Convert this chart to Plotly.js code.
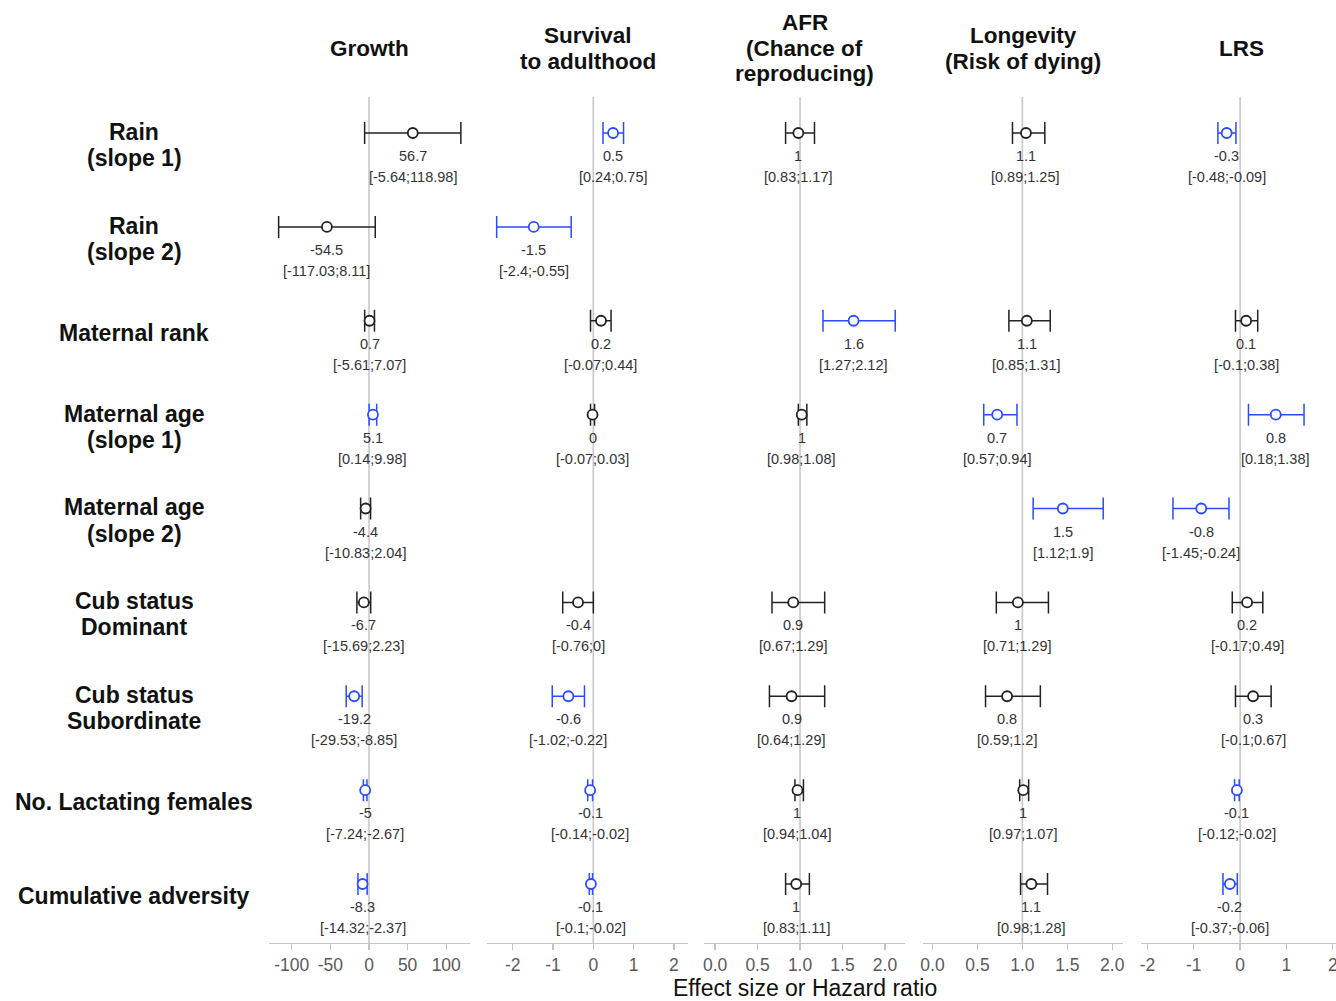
<!DOCTYPE html>
<html><head><meta charset="utf-8">
<script src="https://cdn.plot.ly/plotly-3.0.1.min.js"></script>
<style>html,body{margin:0;padding:0;background:#fff;overflow:hidden}</style>
</head><body><div id="chart" style="width:1336px;height:1001px"></div>
<script>
// ---------- DATA ----------
const rowLabels = ["Rain<br>(slope 1)", "Rain<br>(slope 2)", "Maternal rank", "Maternal age<br>(slope 1)", "Maternal age<br>(slope 2)", "Cub status<br>Dominant", "Cub status<br>Subordinate", "No. Lactating females", "Cumulative adversity"];
const panelTitles = ["Growth", "Survival<br>to adulthood", "AFR<br>(Chance of<br>reproducing)", "Longevity<br>(Risk of dying)", "LRS"];
const refValues = [0, 0, 1, 1, 0];
const axisTitle = "Effect size or Hazard ratio";

const growthEst   = [56.7, -54.5, 0.7, 5.1, -4.4, -6.7, -19.2, -4.96, -8.3];
const growthLabel = ["56.7", "-54.5", "0.7", "5.1", "-4.4", "-6.7", "-19.2", "-5", "-8.3"];
const growthLo    = [-5.64, -117.03, -5.61, 0.14, -10.83, -15.69, -29.53, -7.24, -14.32];
const growthHi    = [118.98, 8.11, 7.07, 9.98, 2.04, 2.23, -8.85, -2.67, -2.37];
const growthSig   = [0, 0, 0, 1, 0, 0, 1, 1, 1];

const survEst   = [0.49, -1.48, 0.19, -0.02, null, -0.38, -0.62, -0.08, -0.06];
const survLabel = ["0.5", "-1.5", "0.2", "0", null, "-0.4", "-0.6", "-0.1", "-0.1"];
const survLo    = [0.24, -2.4, -0.07, -0.07, null, -0.76, -1.02, -0.14, -0.1];
const survHi    = [0.75, -0.55, 0.44, 0.03, null, 0, -0.22, -0.02, -0.02];
const survSig   = [1, 1, 0, 0, null, 0, 1, 1, 1];

const afrEst   = [0.98, null, 1.63, 1.02, null, 0.92, 0.9, 0.97, 0.955];
const afrLabel = ["1", null, "1.6", "1", null, "0.9", "0.9", "1", "1"];
const afrLo    = [0.83, null, 1.27, 0.98, null, 0.67, 0.64, 0.94, 0.83];
const afrHi    = [1.17, null, 2.12, 1.08, null, 1.29, 1.29, 1.04, 1.11];
const afrSig   = [0, null, 1, 0, null, 0, 0, 0, 0];

const longEst   = [1.04, null, 1.05, 0.72, 1.45, 0.95, 0.83, 1.01, 1.1];
const longLabel = ["1.1", null, "1.1", "0.7", "1.5", "1", "0.8", "1", "1.1"];
const longLo    = [0.89, null, 0.85, 0.57, 1.12, 0.71, 0.59, 0.97, 0.98];
const longHi    = [1.25, null, 1.31, 0.94, 1.9, 1.29, 1.2, 1.07, 1.28];
const longSig   = [0, null, 0, 1, 1, 0, 0, 0, 0];

const lrsEst   = [-0.29, null, 0.13, 0.77, -0.84, 0.15, 0.28, -0.07, -0.22];
const lrsLabel = ["-0.3", null, "0.1", "0.8", "-0.8", "0.2", "0.3", "-0.1", "-0.2"];
const lrsLo    = [-0.48, null, -0.1, 0.18, -1.45, -0.17, -0.1, -0.12, -0.37];
const lrsHi    = [-0.09, null, 0.38, 1.38, -0.24, 0.49, 0.67, -0.02, -0.06];
const lrsSig   = [1, null, 0, 1, 1, 0, 0, 1, 1];

const tickVals = [[-100, -50, 0, 50, 100], [-2, -1, 0, 1, 2], [0, 0.5, 1, 1.5, 2], [0, 0.5, 1, 1.5, 2], [-2, -1, 0, 1, 2]];
const tickDecimals = [0, 0, 1, 1, 0];

// ---------- STYLE / LAYOUT ----------
const FONT = "Liberation Sans, Arial, sans-serif";
const BLUE = "#2a4bff";
const BLACK = "#222222";
const W = 1336, H = 1001;
const px = v => v / W;
const py = v => 1 - v / H;

const panels = [
  {est: growthEst, lab: growthLabel, lo: growthLo, hi: growthHi, sig: growthSig, dom: [269, 470], range: [-129.5, 130.8]},
  {est: survEst, lab: survLabel, lo: survLo, hi: survHi, sig: survSig, dom: [487, 688], range: [-2.64, 2.35]},
  {est: afrEst, lab: afrLabel, lo: afrLo, hi: afrHi, sig: afrSig, dom: [704, 905], range: [-0.13, 2.235]},
  {est: longEst, lab: longLabel, lo: longLo, hi: longHi, sig: longSig, dom: [923, 1123], range: [-0.106, 2.12]},
  {est: lrsEst, lab: lrsLabel, lo: lrsLo, hi: lrsHi, sig: lrsSig, dom: [1141, 1336], range: [-2.14, 2.07]}
];

const yTopPx = 97, yBotPx = 943, row0Px = 133, rowStep = 93.875;
const yDomain = [py(yBotPx), py(yTopPx)];
const yRange = [(yBotPx - row0Px) / rowStep, (yTopPx - row0Px) / rowStep];

const traces = [];
const annotations = [];
const shapes = [];
const layout = {
  width: W, height: H,
  margin: {l: 0, r: 0, t: 0, b: 0},
  paper_bgcolor: "white", plot_bgcolor: "white",
  showlegend: false,
  font: {family: FONT, color: "#222"},
  yaxis: {domain: yDomain, range: yRange, showticklabels: false, showgrid: false, zeroline: false, showline: false, ticks: "", fixedrange: true}
};

panels.forEach((p, pi) => {
  const suf = pi === 0 ? "" : String(pi + 1);
  const axName = "xaxis" + suf;
  layout[axName] = {
    domain: [px(p.dom[0]), px(p.dom[1])],
    range: p.range,
    anchor: "y",
    tickmode: "array",
    tickvals: tickVals[pi],
    ticktext: tickVals[pi].map(v => v.toFixed(tickDecimals[pi])),
    ticks: "outside", ticklen: 6, tickwidth: 1.3, tickcolor: "#c4c4c4",
    showline: true, linecolor: "#c4c4c4", linewidth: 1.3,
    showgrid: false, zeroline: false,
    ticklabeloverflow: "allow",
    tickfont: {family: FONT, size: 17.5, color: "#5a5a5a"},
    fixedrange: true
  };
  shapes.push({type: "line", xref: "x" + suf, yref: "paper", x0: refValues[pi], x1: refValues[pi],
    y0: yDomain[0], y1: yDomain[1], line: {color: "#c8c8c8", width: 1.6}, layer: "below"});

  [0, 1].forEach(s => {
    const idx = [];
    p.est.forEach((v, i) => { if (v !== null && p.sig[i] === s) idx.push(i); });
    if (!idx.length) return;
    const col = s ? BLUE : BLACK;
    traces.push({
      type: "scatter", mode: "markers",
      xaxis: "x" + suf, yaxis: "y",
      x: idx.map(i => p.est[i]),
      y: idx,
      error_x: {type: "data", symmetric: false,
        array: idx.map(i => p.hi[i] - p.est[i]),
        arrayminus: idx.map(i => p.est[i] - p.lo[i]),
        color: col, thickness: 1.5, width: 11},
      marker: {symbol: "circle", size: 10, color: "white", line: {color: col, width: 1.8}},
      hoverinfo: "skip", cliponaxis: false
    });
  });

  p.est.forEach((v, i) => {
    if (v === null) return;
    annotations.push({xref: "x" + suf, yref: "y", x: v, y: i, text: p.lab[i], showarrow: false,
      xanchor: "center", yanchor: "middle", yshift: -23, font: {family: FONT, size: 14.5, color: "#333"}});
    annotations.push({xref: "x" + suf, yref: "y", x: v, y: i, text: "[" + p.lo[i] + ";" + p.hi[i] + "]", showarrow: false,
      xanchor: "center", yanchor: "middle", yshift: -44, font: {family: FONT, size: 14.5, color: "#333"}});
  });

  // panel title
  const lines = panelTitles[pi].split("<br>");
  const cx = (p.dom[0] + (pi === 4 ? 1341 : p.dom[1])) / 2;
  lines.forEach((ln, k) => {
    annotations.push({xref: "paper", yref: "paper", x: px(cx), y: py(48.5), text: "<b>" + ln + "</b>", showarrow: false,
      xanchor: "center", yanchor: "middle", yshift: -(k - (lines.length - 1) / 2) * 25.5,
      font: {family: FONT, size: 22.5, color: "#111"}});
  });
});

// row labels
rowLabels.forEach((lab, i) => {
  const lines = lab.split("<br>");
  lines.forEach((ln, k) => {
    annotations.push({xref: "paper", yref: "y", x: px(134), y: i, text: "<b>" + ln + "</b>", showarrow: false,
      xanchor: "center", yanchor: "middle", yshift: -(12 + (k - (lines.length - 1) / 2) * 26),
      font: {family: FONT, size: 23, color: "#111"}});
  });
});

// axis title
annotations.push({xref: "paper", yref: "paper", x: px(805), y: py(988), text: axisTitle, showarrow: false,
  xanchor: "center", yanchor: "middle", font: {family: FONT, size: 23, color: "#111"}});

layout.annotations = annotations;
layout.shapes = shapes;

Plotly.newPlot("chart", traces, layout, {displayModeBar: false, staticPlot: true});
</script>
</body></html>
